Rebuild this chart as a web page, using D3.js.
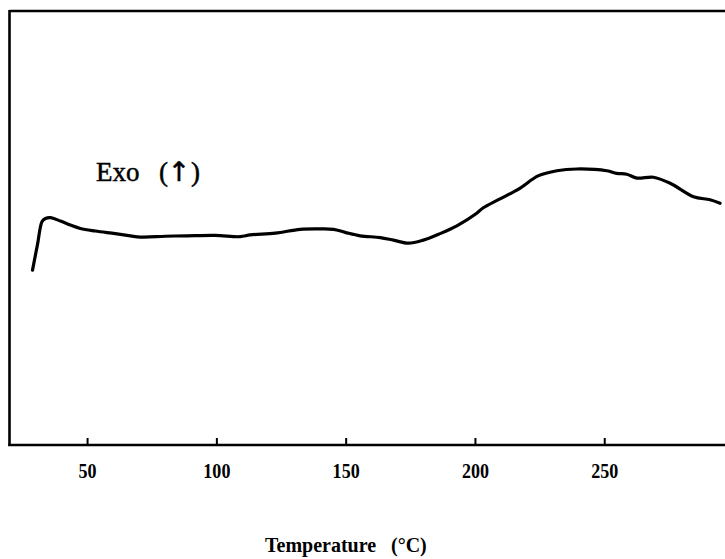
<!DOCTYPE html>
<html><head><meta charset="utf-8">
<script src="https://cdn.jsdelivr.net/npm/d3@7"></script>
<style>body{margin:0;background:#fff}svg{display:block}</style>
</head><body>
<svg id="c" width="725" height="559"></svg>
<script>
const temperature = [28.9,30.8,32.6,33.9,35.8,39.7,43.5,47.4,53.2,60.9,70.6,80.2,88.6,99.6,109.2,113.1,122.8,132.4,140.2,145.3,149.8,155.6,163.4,168.5,174.3,180.0,186.5,193.0,200.7,203.1,209.7,217.5,224.4,231.7,239.4,251.0,254.8,258.7,262.6,269.0,275.5,284.5,290.9,294.8];
const heatFlow = [4.03,4.61,5.15,5.22,5.24,5.16,5.07,4.99,4.93,4.87,4.79,4.81,4.82,4.83,4.80,4.84,4.88,4.97,4.98,4.97,4.90,4.82,4.78,4.72,4.65,4.72,4.87,5.05,5.34,5.46,5.67,5.92,6.20,6.32,6.36,6.32,6.26,6.24,6.15,6.17,6.03,5.72,5.65,5.57];
const xTicks = [50,100,150,200,250];
const xLabel = "Temperature";
const xUnit = "(\u00B0C)";
const exoLabel = ["Exo","(","\u2191",")"];

const svg = d3.select("#c");
const x = d3.scaleLinear().domain([20, 296.7]).range([9.5, 725]);
const y = d3.scaleLinear().domain([0, 10]).range([445, 11]);
const font = "'Liberation Serif','DejaVu Serif',serif";

// frame: top and left
svg.append("line").attr("x1",9.5).attr("x2",725).attr("y1",11).attr("y2",11)
  .attr("stroke","#000").attr("stroke-width",2.6);
svg.append("line").attr("x1",9.5).attr("x2",9.5).attr("y1",10).attr("y2",446)
  .attr("stroke","#000").attr("stroke-width",2.6);

// bottom axis
const ax = svg.append("g").attr("transform","translate(0,445)")
  .call(d3.axisBottom(x).tickValues(xTicks).tickSizeInner(-7).tickSizeOuter(0).tickPadding(18));
ax.attr("font-size",null).attr("font-family",null);
ax.select(".domain").attr("stroke","#000").attr("stroke-width",2.6).attr("d","M8.2,0H725");
ax.selectAll(".tick line").attr("stroke","#000").attr("stroke-width",2);
ax.selectAll(".tick text").attr("font-family",font).attr("font-size",21)
  .attr("font-weight","bold").attr("fill","#000").attr("transform","scale(0.86,1)");

// curve
const line = d3.line().x((d,i)=>x(temperature[i])).y(d=>y(d)).curve(d3.curveCatmullRom.alpha(0.5));
svg.append("path").datum(heatFlow).attr("d",line).attr("fill","none")
  .attr("stroke","#000").attr("stroke-width",3.2).attr("stroke-linejoin","round").attr("stroke-linecap","round");

// Exo label
const exoX = [96,159,179,191];
const exoAnchor = ["start","start","middle","start"];
const exoFont = [font,font,"'DejaVu Sans',sans-serif",font];
const exoSize = [27,27,27,27];
svg.selectAll("text.exo").data(exoLabel).enter().append("text").attr("class","exo")
  .attr("x",(d,i)=>exoX[i]).attr("y",181).attr("font-family",(d,i)=>exoFont[i])
  .attr("font-size",(d,i)=>exoSize[i]).attr("text-anchor",(d,i)=>exoAnchor[i])
  .attr("fill","#000").attr("stroke","#000").attr("stroke-width",0.5).text(d=>d);

// x axis title
svg.append("text").attr("x",265).attr("y",552).attr("font-family",font).attr("font-size",20)
  .attr("font-weight","bold").attr("fill","#000").text(xLabel);
svg.append("text").attr("x",391).attr("y",552).attr("font-family",font).attr("font-size",20)
  .attr("font-weight","bold").attr("fill","#000").text(xUnit);
</script>
</body></html>
